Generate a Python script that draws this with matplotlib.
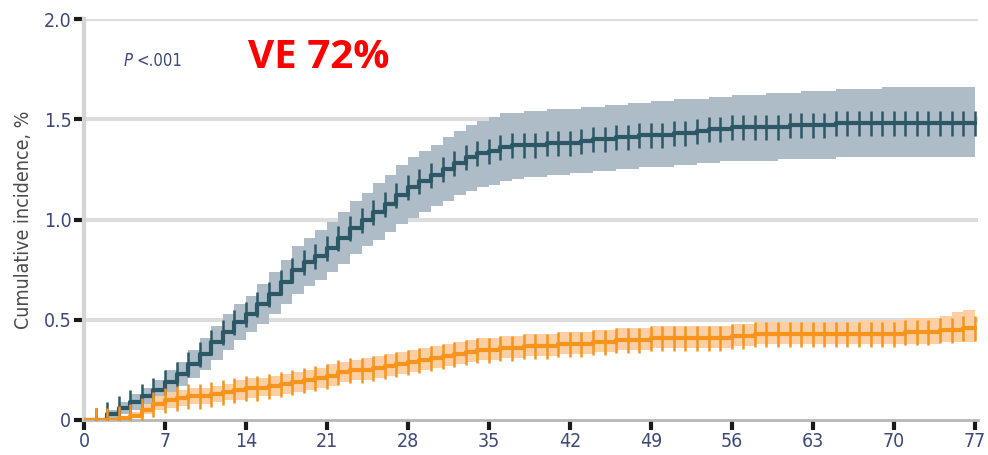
import numpy as np
import matplotlib
matplotlib.use("Agg")
import matplotlib.pyplot as plt

# days of follow-up
days = list(range(0, 78))

# unvaccinated (dark) cumulative incidence, %
dark = [0.00, 0.00, 0.03, 0.06, 0.09, 0.12, 0.15, 0.19, 0.23, 0.28,
        0.33, 0.39, 0.44, 0.49, 0.53, 0.58, 0.63, 0.69, 0.75, 0.79,
        0.82, 0.86, 0.91, 0.96, 1.00, 1.04, 1.08, 1.12, 1.16, 1.19,
        1.22, 1.25, 1.28, 1.31, 1.33, 1.34, 1.36, 1.37, 1.37, 1.37,
        1.38, 1.38, 1.38, 1.39, 1.40, 1.40, 1.41, 1.41, 1.42, 1.42,
        1.42, 1.43, 1.43, 1.44, 1.45, 1.45, 1.46, 1.46, 1.46, 1.46,
        1.46, 1.47, 1.47, 1.47, 1.47, 1.48, 1.48, 1.48, 1.48, 1.48,
        1.48, 1.48, 1.48, 1.48, 1.48, 1.48, 1.48, 1.48]
dark_lo = [0.00, 0.00, 0.01, 0.03, 0.05, 0.08, 0.10, 0.13, 0.17, 0.21,
           0.25, 0.30, 0.35, 0.40, 0.44, 0.48, 0.53, 0.58, 0.63, 0.67,
           0.70, 0.74, 0.78, 0.83, 0.87, 0.90, 0.94, 0.98, 1.01, 1.04,
           1.07, 1.09, 1.12, 1.14, 1.16, 1.17, 1.19, 1.20, 1.21, 1.21,
           1.22, 1.22, 1.23, 1.23, 1.24, 1.24, 1.25, 1.25, 1.26, 1.26,
           1.26, 1.27, 1.27, 1.28, 1.28, 1.29, 1.29, 1.29, 1.29, 1.29,
           1.30, 1.30, 1.30, 1.30, 1.30, 1.31, 1.31, 1.31, 1.31, 1.31,
           1.31, 1.31, 1.31, 1.31, 1.31, 1.31, 1.31, 1.31]
dark_hi = [0.00, 0.01, 0.05, 0.09, 0.13, 0.16, 0.20, 0.25, 0.29, 0.35,
           0.41, 0.47, 0.53, 0.58, 0.62, 0.68, 0.74, 0.80, 0.87, 0.91,
           0.95, 0.99, 1.04, 1.09, 1.13, 1.18, 1.22, 1.27, 1.31, 1.34,
           1.37, 1.41, 1.44, 1.47, 1.49, 1.51, 1.53, 1.53, 1.54, 1.54,
           1.55, 1.55, 1.55, 1.56, 1.56, 1.57, 1.57, 1.58, 1.58, 1.59,
           1.59, 1.60, 1.60, 1.60, 1.61, 1.61, 1.62, 1.62, 1.62, 1.63,
           1.63, 1.63, 1.64, 1.64, 1.64, 1.65, 1.65, 1.65, 1.65, 1.66,
           1.66, 1.66, 1.66, 1.66, 1.66, 1.66, 1.66, 1.66]

# vaccinated (orange) cumulative incidence, %
orange = [0.00, 0.00, 0.00, 0.01, 0.02, 0.05, 0.08, 0.10, 0.11, 0.12,
          0.12, 0.13, 0.14, 0.15, 0.16, 0.16, 0.17, 0.18, 0.19, 0.20,
          0.21, 0.22, 0.24, 0.25, 0.25, 0.26, 0.27, 0.28, 0.29, 0.30,
          0.31, 0.32, 0.33, 0.34, 0.35, 0.35, 0.36, 0.36, 0.37, 0.37,
          0.37, 0.38, 0.38, 0.38, 0.39, 0.39, 0.40, 0.40, 0.40, 0.41,
          0.41, 0.41, 0.41, 0.41, 0.41, 0.41, 0.42, 0.42, 0.43, 0.43,
          0.43, 0.43, 0.43, 0.43, 0.43, 0.43, 0.43, 0.43, 0.43, 0.43,
          0.43, 0.44, 0.44, 0.44, 0.45, 0.45, 0.46, 0.46]
orange_lo = [0.00, 0.00, 0.00, 0.00, 0.01, 0.03, 0.05, 0.06, 0.07, 0.08,
             0.08, 0.09, 0.10, 0.10, 0.11, 0.12, 0.12, 0.13, 0.14, 0.15,
             0.16, 0.17, 0.19, 0.20, 0.20, 0.21, 0.22, 0.23, 0.24, 0.25,
             0.26, 0.27, 0.28, 0.29, 0.30, 0.30, 0.31, 0.31, 0.32, 0.32,
             0.32, 0.33, 0.33, 0.33, 0.34, 0.34, 0.35, 0.35, 0.35, 0.36,
             0.36, 0.36, 0.36, 0.36, 0.36, 0.36, 0.37, 0.37, 0.38, 0.38,
             0.38, 0.38, 0.38, 0.38, 0.38, 0.38, 0.38, 0.38, 0.38, 0.38,
             0.38, 0.38, 0.38, 0.38, 0.39, 0.39, 0.39, 0.39]
orange_hi = [0.00, 0.01, 0.01, 0.02, 0.04, 0.08, 0.12, 0.14, 0.15, 0.16,
             0.16, 0.17, 0.18, 0.20, 0.21, 0.21, 0.22, 0.23, 0.24, 0.25,
             0.26, 0.28, 0.29, 0.30, 0.31, 0.32, 0.33, 0.34, 0.35, 0.36,
             0.37, 0.38, 0.39, 0.40, 0.41, 0.41, 0.42, 0.42, 0.43, 0.43,
             0.43, 0.44, 0.44, 0.44, 0.45, 0.45, 0.46, 0.46, 0.46, 0.47,
             0.47, 0.47, 0.47, 0.47, 0.47, 0.47, 0.48, 0.48, 0.49, 0.49,
             0.49, 0.49, 0.49, 0.49, 0.49, 0.49, 0.49, 0.50, 0.50, 0.50,
             0.50, 0.51, 0.51, 0.51, 0.52, 0.54, 0.55, 0.55]

xticks = [0, 7, 14, 21, 28, 35, 42, 49, 56, 63, 70, 77]
yticks = [0, 0.5, 1.0, 1.5, 2.0]
ytick_labels = ["0", "0.5", "1.0", "1.5", "2.0"]

dark_line = "#2b5766"
dark_band = "#adbcc6"
org_line = "#f7941d"
org_band = "#fcd0a4"
tick_color = "#3d4a78"

plt.rcParams['font.family'] = ['DejaVu Sans']
plt.rcParams['font.stretch'] = 'condensed'

fig = plt.figure(figsize=(9.88, 4.55), dpi=100)
ax = fig.add_axes([0.085, 0.077, 0.905, 0.881])

for yv in yticks[1:]:
    ax.axhline(yv, color="#dcdcdc", lw=3, zorder=0)

ax.fill_between(days, dark_lo, dark_hi, step="post", color=dark_band, lw=0, zorder=1)
ax.fill_between(days, orange_lo, orange_hi, step="post", color=org_band, lw=0, zorder=2)

ax.plot(days, dark, drawstyle="steps-post", color=dark_line, lw=3, zorder=3)
ax.plot(days[1:], dark[1:], ls="none", marker="|", ms=18, mew=1.8, color=dark_line, zorder=3)
ax.plot(days, orange, drawstyle="steps-post", color=org_line, lw=3, zorder=4)
ax.plot(days[1:], orange[1:], ls="none", marker="|", ms=18, mew=1.8, color=org_line, zorder=4)

ax.set_xlim(0, 77.3)
ax.set_ylim(0, 2.0)
ax.set_xticks(xticks)
ax.set_xticklabels([str(t) for t in xticks])
ax.set_yticks(yticks)
ax.set_yticklabels(ytick_labels)
ax.tick_params(axis="both", length=7, width=3, color="#1a1a1a",
               labelsize=14, labelcolor=tick_color, pad=2)

for s in ["top", "right"]:
    ax.spines[s].set_visible(False)
ax.spines["left"].set_color("#d4d4d4")
ax.spines["left"].set_linewidth(3)
ax.spines["bottom"].set_color("#b8b8b8")
ax.spines["bottom"].set_linewidth(2)

ax.set_ylabel("Cumulative incidence, %", fontsize=14, color="#4a4a4a", labelpad=8)

ax.text(3.4, 1.79, "P", fontsize=12, style="italic", color="#3d4a78", va="center")
ax.text(4.5, 1.79, "<.001", fontsize=12, color="#3d4a78", va="center")
ax.text(14.2, 1.81, "VE 72%", fontsize=29, fontweight="bold", color="#ff0000",
        family="Open Sans", stretch="normal", va="center")

fig.savefig("out.png", dpi=100)
